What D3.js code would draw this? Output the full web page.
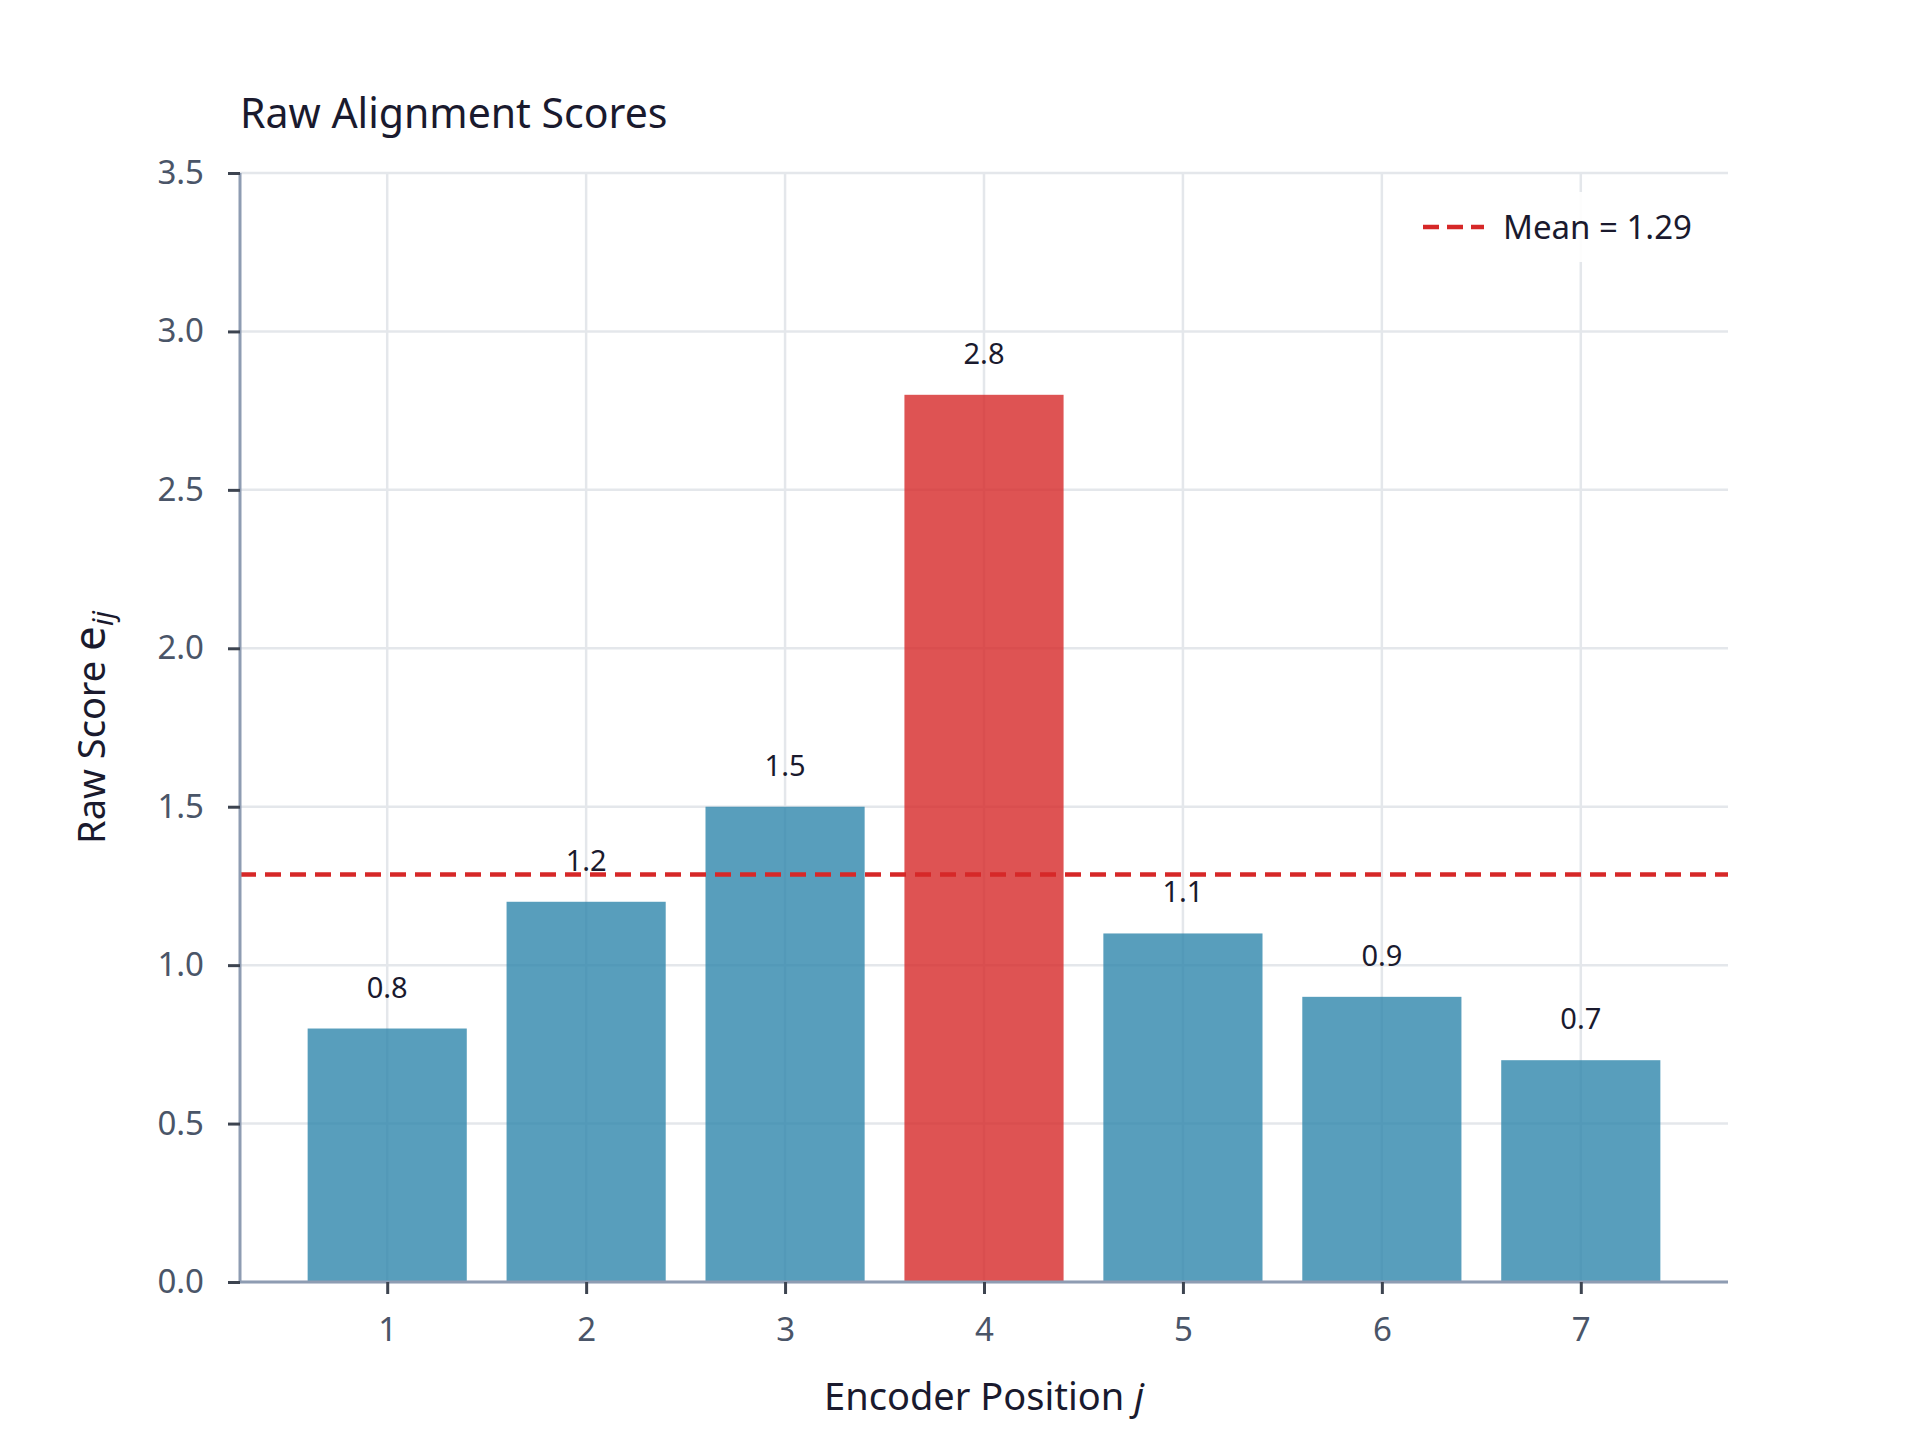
<!DOCTYPE html>
<html>
<head>
<meta charset="utf-8">
<script src="https://cdn.jsdelivr.net/npm/d3@7"></script>
<style>
  body { margin: 0; background: #fff; }
  text { font-family: "Noto Sans", sans-serif; }
</style>
</head>
<body>
<div id="chart"></div>
<script>
// data
var positions = [1, 2, 3, 4, 5, 6, 7];
var scores = [0.8, 1.2, 1.5, 2.8, 1.1, 0.9, 0.7];
var yTicks = [0.0, 0.5, 1.0, 1.5, 2.0, 2.5, 3.0, 3.5];

var W = 1920, H = 1440;
var margin = { top: 173, right: 192, bottom: 158, left: 240 },
  width = W - margin.left - margin.right,
  height = H - margin.top - margin.bottom;

var svg = d3.select("#chart")
  .append("svg")
  .attr("width", W)
  .attr("height", H);

var g = svg.append("g")
  .attr("transform", "translate(" + margin.left + "," + margin.top + ")");

// scales (bars width 0.8, matplotlib style 5% margins)
var x = d3.scaleLinear().domain([0.26, 7.74]).range([0, width]);
var y = d3.scaleLinear().domain([0, 3.5]).range([height, 0]);

// grid
g.append("g")
  .selectAll("line.hg")
  .data(yTicks)
  .enter().append("line")
  .attr("x1", 0).attr("x2", width)
  .attr("y1", function (d) { return y(d); })
  .attr("y2", function (d) { return y(d); })
  .attr("stroke", "#e4e7eb")
  .attr("stroke-width", 2.5);

g.append("g")
  .selectAll("line.vg")
  .data(positions)
  .enter().append("line")
  .attr("y1", 0).attr("y2", height)
  .attr("x1", function (d) { return x(d); })
  .attr("x2", function (d) { return x(d); })
  .attr("stroke", "#e4e7eb")
  .attr("stroke-width", 2.5);

// bars
var maxVal = d3.max(scores);
var bw = x(0.8) - x(0);
g.selectAll("rect.bar")
  .data(scores)
  .enter().append("rect")
  .attr("x", function (d, i) { return x(positions[i]) - bw / 2; })
  .attr("y", function (d) { return y(d); })
  .attr("width", bw)
  .attr("height", function (d) { return height - y(d); })
  .attr("fill", function (d) { return d === maxVal ? "#D62828" : "#2E86AB"; })
  .attr("fill-opacity", 0.8);

// value labels
g.selectAll("text.val")
  .data(scores)
  .enter().append("text")
  .attr("x", function (d, i) { return x(positions[i]); })
  .attr("y", function (d) { return y(d) - 31; })
  .attr("text-anchor", "middle")
  .style("font-size", "29px")
  .attr("fill", "#1a1a2e")
  .text(function (d) { return d.toFixed(1); });

// mean line
var mean = d3.mean(scores);
g.append("line")
  .attr("x1", 0).attr("x2", width)
  .attr("y1", y(mean)).attr("y2", y(mean))
  .attr("stroke", "#D62828")
  .attr("stroke-width", 4.5)
  .attr("stroke-dasharray", "16,9");

// axes
var yAxis = g.append("g")
  .call(d3.axisLeft(y).tickValues(yTicks).tickFormat(d3.format(".1f")).tickSize(12).tickPadding(24));
var xAxis = g.append("g")
  .attr("transform", "translate(0," + height + ")")
  .call(d3.axisBottom(x).tickValues(positions).tickFormat(d3.format("d")).tickSize(12).tickPadding(24));

[yAxis, xAxis].forEach(function (a) {
  a.select(".domain").attr("stroke", "#8e9cb2").attr("stroke-width", 3);
  a.selectAll(".tick line").attr("stroke", "#3d4450").attr("stroke-width", 3);
  a.selectAll(".tick text")
    .style("font-size", "33px")
    .style("font-family", "Noto Sans, sans-serif")
    .attr("fill", "#4a5568");
});
// remove the outer tick stubs of the domain path
yAxis.select(".domain").attr("d", "M0," + height + "V0");
xAxis.select(".domain").attr("d", "M0,0H" + width);

// legend
var lg = g.append("g").attr("transform", "translate(" + (1405 - margin.left) + "," + (192 - margin.top) + ")");
lg.append("rect")
  .attr("width", 305).attr("height", 70)
  .attr("fill", "#fff").attr("fill-opacity", 0.9);
lg.append("line")
  .attr("x1", 18).attr("x2", 79)
  .attr("y1", 35).attr("y2", 35)
  .attr("stroke", "#D62828")
  .attr("stroke-width", 4.5)
  .attr("stroke-dasharray", "16,8");
lg.append("text")
  .attr("x", 98).attr("y", 47)
  .style("font-size", "33px")
  .attr("fill", "#1a1a2e")
  .text("Mean = " + mean.toFixed(2));

// title
svg.append("text")
  .attr("x", margin.left).attr("y", 128)
  .style("font-size", "41px")
  .attr("fill", "#1a1a2e")
  .text("Raw Alignment Scores");

// x label
var xl = svg.append("text")
  .attr("x", margin.left + width / 2).attr("y", 1410)
  .attr("text-anchor", "middle")
  .style("font-size", "38px")
  .attr("fill", "#1a1a2e");
xl.append("tspan").text("Encoder Position ");
xl.append("tspan").style("font-style", "italic").text("j");

// y label
var yl = svg.append("text")
  .attr("transform", "translate(105," + (margin.top + height / 2) + ") rotate(-90)")
  .attr("text-anchor", "middle")
  .style("font-size", "38px")
  .attr("fill", "#1a1a2e");
yl.append("tspan").text("Raw Score ");
yl.append("tspan").style("font-size", "44px").text("e");
yl.append("tspan").style("font-style", "italic").style("font-size", "29px").attr("dy", 8).text("ij");
</script>
</body>
</html>
